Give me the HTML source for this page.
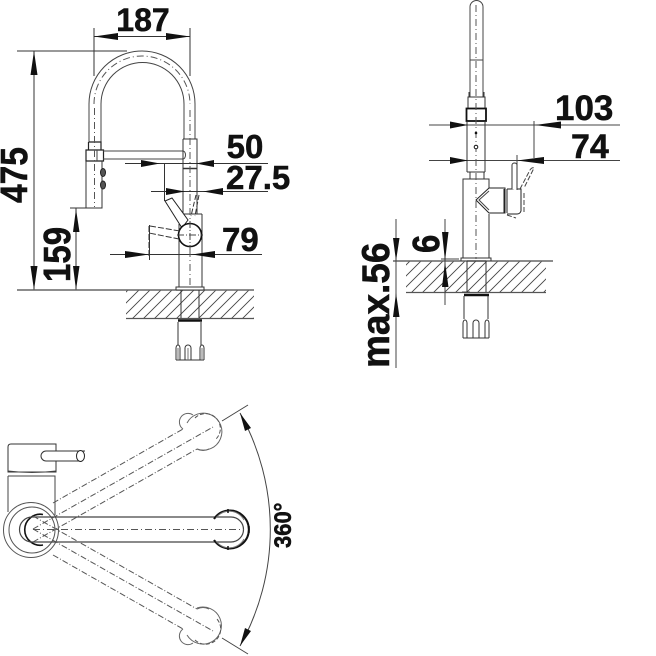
<!DOCTYPE html>
<html><head><meta charset="utf-8"><style>
html,body{margin:0;padding:0;background:#fff}
svg{display:block}
text{font-family:"Liberation Sans",sans-serif;font-weight:bold;fill:#111;stroke:#111;stroke-width:.5}
</style></head><body>
<svg width="656" height="656" viewBox="0 0 656 656" xmlns="http://www.w3.org/2000/svg">
<defs>
<pattern id="h" width="11" height="11" patternUnits="userSpaceOnUse">
<path d="M-1 12L12 -1M-6 6L6 -6M5 17L17 5" stroke="#444" stroke-width="0.9" fill="none"/>
</pattern>
</defs>

<!-- hatch -->
<rect x="126" y="290" width="128" height="28.5" fill="url(#h)"/>
<rect x="406" y="261" width="140" height="31" fill="url(#h)"/>

<g fill="none" stroke="#333" stroke-width="1">
<!-- LEFT VIEW dimensions -->
<path d="M94 28V76M190 28V76M94 36.5H190"/>
<path d="M17 51H127M34 51V290M76 208V290M70 208H102"/>
<path d="M125 163.5H268M164.5 163V201M151 191.5H268M110 254.5H262M149.5 225V260"/>
<path d="M17 290H254" stroke="#666" stroke-width="1.4"/>
<path d="M126 318.5H254" stroke="#555" stroke-width="1.2"/>

<!-- LEFT faucet -->
<path d="M89 104A53 53 0 0 1 195 104V139M89 104V142M101 104V142M101 104A41 41 0 0 1 184 104V139" stroke="#444"/>
<path d="M88.5 142H101V150M88.5 142V150M86 150H103.500V161H86Z" stroke="#222" stroke-width="1.2"/>
<path d="M97 150V161M103 151H183a2.500 4 0 0 1 0 8H103" stroke="#444"/>
<path d="M86 161V208H102V161"/>
<path d="M183 139H197V214M183 139V214" stroke="#333"/>
<path d="M183 168.500H197" stroke-width="1.5"/>
<path d="M179 224V288M202 214V288M183 214H202" stroke="#333"/>
<ellipse cx="103" cy="172.500" rx="2.500" ry="4" fill="#555" stroke="#222"/>
<ellipse cx="103" cy="185" rx="2.500" ry="4" fill="#555" stroke="#222"/>
<path d="M94.500 108V207M190 110V288" stroke="#555" stroke-dasharray="7 3 1 3"/>
<path d="M94 104A48 48 0 0 1 190 104" stroke="#555" stroke-dasharray="7 3 1 3"/>
<path d="M165 201L172 198L188 220L182 228Z" fill="#fff" stroke="#222"/>
<circle cx="190" cy="235" r="11.500" fill="#fff" stroke="#111" stroke-width="1.600"/>
<path d="M190 221V250M177 235H203" stroke="#444" stroke-dasharray="7 2 1 2"/>
<path d="M150 226L180 231M149 226V233L179 239M149 226V256" stroke="#333" stroke-dasharray="6 2"/>
<path d="M196 195L191 216M199 195L195 216" stroke="#333" stroke-dasharray="5 2"/>
<path d="M181 290V318M199 290V318M176 290V287H204V290H176" fill="#fff" stroke="#333"/>
<path d="M178 320.500H202" stroke="#111" stroke-width="2.500"/>
<path d="M178 322V345M201 322V345"/>
<path d="M176 360V348a2 3 0 0 1 4 0V360M185 360V348a3 3 0 0 1 6 0V360M200 360V348a2 3 0 0 1 4 0V360M176 360H204"/>
<path d="M178 348V360M188 348V360M202 348V360" stroke="#777"/>

<!-- RIGHT VIEW dimensions -->
<path d="M429 125H620M429 160.500H620M534 121V158M517 155V188" stroke="#444"/>
<path d="M393 261H553" stroke="#666" stroke-width="1.400"/>
<path d="M406 292.500H546" stroke="#555" stroke-width="1.200"/>
<path d="M396 219V368M445 219V305M441 259H459M462 292H470" stroke="#444"/>

<!-- RIGHT faucet -->
<path d="M470 97V7a6.500 6.500 0 0 1 13 0V97M470 60H483" stroke="#444"/>
<path d="M468 108V97H485V108M469 97V92M484 97V92"/>
<rect x="466.500" y="108.500" width="19.500" height="12.500" stroke="#111" stroke-width="1.800"/>
<path d="M467 121V172M485 121V172M467 172H485M470 172V179M484 172V179"/>
<path d="M463 258V179H489V188M489 214V258" stroke="#333"/>
<path d="M461 261V258H491V261" stroke="#333"/>
<path d="M476 5V259" stroke="#555" stroke-dasharray="7 3 1 3"/>
<circle cx="476" cy="133" r="0.800" fill="#111" stroke="#111"/>
<circle cx="476" cy="147" r="1.800" fill="#fff" stroke="#111"/>
<path d="M489 188H505V213H489L476 200Z" fill="#fff" stroke="#222"/>
<path d="M489 191L479 200L489 210" stroke="#444"/>
<path d="M504 189V213M507 189V213" stroke="#222"/>
<path d="M507 189H521V211q-1 3 -4 3H507" stroke="#222"/>
<path d="M512 189V165a2.500 2 0 0 1 5 0V190" fill="#fff" stroke="#333"/>
<path d="M520 189L530 170q2 -3 4 -2L524 188M524 193V212M507 215L516 218" stroke="#444" stroke-dasharray="5 2"/>
<path d="M467 261V292M486 261V292" stroke="#333"/>
<path d="M467 261H486" stroke="#333"/>
<path d="M464 295H489" stroke="#111" stroke-width="2.500"/>
<path d="M464 296V319M488 296V319"/>
<path d="M463 338V323a2 3 0 0 1 4 0V338M473 338V323a3 3 0 0 1 6 0V338M485 338V323a2 3 0 0 1 4 0V338M463 338H489" stroke="#333"/>

<!-- BOTTOM VIEW -->
<path d="M8 472V447q0 -3 3 -3H56V472Z" stroke="#333"/>
<path d="M8 471q24 3 48 0M8 476H55V515M8 476V512" stroke="#444"/>
<path d="M85 451H46a5 5 0 0 0 0 10H82" fill="#fff" stroke="#333"/>
<ellipse cx="80.500" cy="456" rx="4" ry="5.500" fill="#fff" stroke="#222"/>
<circle cx="31" cy="530" r="27.500" stroke="#555" fill="#fff"/>
<circle cx="32" cy="530" r="23" stroke="#555"/>
<path d="M8 490V505M55 490V508" stroke="#444"/>
<path d="M43 514.500A15.500 15.500 0 1 0 43 545" stroke="#111" stroke-width="1.600"/>
<path d="M231 517H32a12.500 12.500 0 0 0 0 25H231a12.500 12.500 0 0 0 0 -25" stroke="#444" stroke-width="1.200"/>
<path d="M33 529.500H244" stroke="#555" stroke-dasharray="7 3 1 3"/>
<path d="M214 519A19 19 0 1 1 214 540" stroke="#111" stroke-width="2"/>
<path d="M216 518A16.500 16.500 0 0 1 244 520" stroke="#777"/>
<path d="M216 541A16.500 16.500 0 0 0 244 539" stroke="#777"/>
<path d="M228 513V509M249 526V533M228 546V550" stroke="#111" stroke-width="1.500"/>
<g stroke="#555" stroke-dasharray="6 2 1 2">
<path d="M33 529L213 427"/>
<path d="M53 503L183 429M33 542L197 449"/>
<path d="M33 529L213 631"/>
<path d="M53 555L183 629M33 516L197 609"/>
</g>
<g stroke="#666">
<path d="M187 423A18.500 18.500 0 1 1 197 449"/>
<path d="M187 635A18.500 18.500 0 1 0 197 608"/>
<path d="M183 429A5 5 0 0 1 193 415M197 449q6 3 12 0" />
<path d="M183 629A5 5 0 0 0 193 643M197 609q6 -3 12 0"/>
</g>
<path d="M195 418A13 13 0 0 1 216 439" stroke="#555" stroke-dasharray="4 2"/>
<path d="M195 640A13 13 0 0 0 216 618" stroke="#555" stroke-dasharray="4 2"/>
<path d="M222 421L248 405M222 638L248 654M240 413A239 239 0 0 1 240 646" stroke="#444"/>
</g>

<!-- arrowheads -->
<g fill="#111">
<path d="M94 36.500L118 33V40ZM190 36.500L166 33V40Z"/>
<path d="M34 51L30.500 75H37.500ZM34 290L30.500 266H37.500ZM76 209L73 232H79.500ZM76 290L73 266H79.500Z"/>
<path d="M160 163.500L141 160V167ZM196 163.500L214 160V167Z"/>
<path d="M185 191.500L166 188V195ZM203 191.500L223 188V195Z"/>
<path d="M149 254.500L125 251V258ZM192 254.500L215 251V258Z"/>
<path d="M468 125L450 121.500V128.500ZM535 125L561 121.500V128.500Z"/>
<path d="M468 160.500L450 157V164ZM517 160.500L544 157V164Z"/>
<path d="M396 261L393 238H399.500ZM396 293L393 317H399.500ZM445 261L442 232H448.500ZM445 262L442 287H448.500Z"/>
<path d="M240 413L245 431L251 428ZM240 646L245 628L251 631Z"/>
</g>

<!-- labels -->
<text x="143" y="31" font-size="32" text-anchor="middle">187</text>
<text x="245" y="158" font-size="33" text-anchor="middle">50</text>
<text x="226" y="189" font-size="33">27.5</text>
<text x="222" y="251" font-size="33">79</text>
<text x="555" y="120" font-size="35">103</text>
<text x="571" y="158" font-size="34">74</text>
<text transform="translate(27,203) rotate(-90) scale(1,1.130)" font-size="33.500">475</text>
<text transform="translate(70,282) rotate(-90) scale(1,1.150)" font-size="33">159</text>
<text transform="translate(389,368) rotate(-90) scale(1,1.040)" font-size="37">max.56</text>
<text transform="translate(439,253) rotate(-90) scale(1,1.150)" font-size="33">6</text>
<text transform="translate(291,548) rotate(-90) scale(1,1.100)" font-size="22">360°</text>
</svg>
</body></html>
